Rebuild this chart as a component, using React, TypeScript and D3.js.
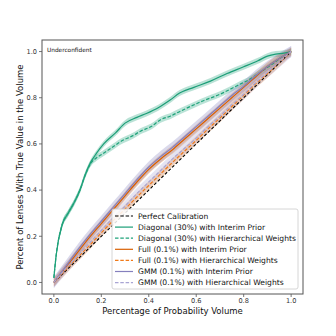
import React from 'react';
import * as d3 from 'd3';

// reading of the calibration curves
const diagX = [0, 0.01, 0.035, 0.06, 0.085, 0.11, 0.13, 0.155, 0.18, 0.21, 0.26, 0.3, 0.35, 0.39, 0.44, 0.49, 0.53, 0.59, 0.66, 0.73, 0.8, 0.86, 0.9, 0.935, 0.97, 1.0];
const diagInterim = [0.02, 0.12, 0.25, 0.3, 0.345, 0.4, 0.46, 0.52, 0.56, 0.6, 0.648, 0.69, 0.715, 0.732, 0.757, 0.79, 0.82, 0.845, 0.872, 0.905, 0.934, 0.96, 0.98, 0.989, 0.993, 1.0];
const diagHierX = [0, 0.01, 0.035, 0.06, 0.085, 0.11, 0.13, 0.155, 0.18, 0.204, 0.26, 0.28, 0.337, 0.365, 0.41, 0.45, 0.49, 0.534, 0.618, 0.7, 0.772, 0.829, 0.87, 0.92, 0.96, 1.0];
const diagHier = [0.02, 0.12, 0.25, 0.3, 0.345, 0.4, 0.46, 0.515, 0.54, 0.556, 0.595, 0.609, 0.638, 0.655, 0.675, 0.705, 0.72, 0.742, 0.782, 0.815, 0.852, 0.882, 0.91, 0.945, 0.975, 1.0];

const nearX = [0, 0.05, 0.1, 0.15, 0.2, 0.25, 0.3, 0.35, 0.4, 0.45, 0.5, 0.55, 0.6, 0.65, 0.7, 0.75, 0.8, 0.85, 0.9, 0.95, 1.0];
const gmmInterim = [0, 0.07, 0.14, 0.205, 0.265, 0.325, 0.385, 0.445, 0.5, 0.545, 0.585, 0.63, 0.675, 0.72, 0.765, 0.81, 0.85, 0.895, 0.935, 0.97, 1.0];
const fullInterim = [0, 0.065, 0.13, 0.195, 0.255, 0.315, 0.375, 0.435, 0.49, 0.535, 0.575, 0.62, 0.665, 0.71, 0.755, 0.8, 0.845, 0.89, 0.935, 0.97, 1.0];
const gmmHier = [0, 0.06, 0.115, 0.17, 0.225, 0.28, 0.33, 0.385, 0.435, 0.485, 0.535, 0.58, 0.625, 0.675, 0.72, 0.77, 0.815, 0.865, 0.91, 0.955, 1.0];
const fullHier = [0, 0.055, 0.108, 0.16, 0.215, 0.268, 0.318, 0.37, 0.42, 0.47, 0.52, 0.568, 0.615, 0.665, 0.712, 0.762, 0.81, 0.86, 0.905, 0.952, 1.0];

const ticks = [0, 0.2, 0.4, 0.6, 0.8, 1.0];

type Series = { label: string; xs: number[]; ys: number[]; color: string; dashed: boolean; band: number };

const series: Series[] = [
  { label: 'Diagonal (30%) with Interim Prior', xs: diagX, ys: diagInterim, color: '#1b9e77', dashed: false, band: 0.013 },
  { label: 'Diagonal (30%) with Hierarchical Weights', xs: diagHierX, ys: diagHier, color: '#1fa37a', dashed: true, band: 0.013 },
  { label: 'Full (0.1%) with Interim Prior', xs: nearX, ys: fullInterim, color: '#d95f02', dashed: false, band: 0.018 },
  { label: 'Full (0.1%) with Hierarchical Weights', xs: nearX, ys: fullHier, color: '#f07a1a', dashed: true, band: 0.018 },
  { label: 'GMM (0.1%) with Interim Prior', xs: nearX, ys: gmmInterim, color: '#8580bd', dashed: false, band: 0.024 },
  { label: 'GMM (0.1%) with Hierarchical Weights', xs: nearX, ys: gmmHier, color: '#a9a5d4', dashed: true, band: 0.024 },
];

const W = 336, H = 336;
const left = 42, right = 303, top = 40, bottom = 294;

export default function App() {
  const x = d3.scaleLinear().domain([-0.05, 1.05]).range([left, right]);
  const y = d3.scaleLinear().domain([-0.05, 1.05]).range([bottom, top]);
  const font = 'DejaVu Sans, sans-serif';

  const line = (xs: number[], ys: number[]) =>
    d3.line<number>().x((_, i) => x(xs[i])).y(d => y(d)).curve(d3.curveMonotoneX)(ys) || '';
  const area = (xs: number[], ys: number[], b: number) =>
    d3.area<number>().x((_, i) => x(xs[i])).y0(d => y(d - b)).y1(d => y(d + b)).curve(d3.curveMonotoneX)(ys) || '';

  const legendRows = [{ label: 'Perfect Calibration', color: '#000', dashed: true }, ...series];

  return (
    <svg width={W} height={H} style={{ position: 'absolute', left: 0, top: 0, background: '#fff' }} fontFamily={font}>
      <defs>
        <clipPath id="plot">
          <rect x={left} y={top} width={right - left} height={bottom - top} />
        </clipPath>
      </defs>
      <g clipPath="url(#plot)">
        {series.map(s => (
          <path key={s.label + 'b'} d={area(s.xs, s.ys, s.band)} fill={s.color} opacity={0.3} />
        ))}
        <path d={line([0, 1], [0, 1])} stroke="#000" strokeWidth={1.1} strokeDasharray="3,2" fill="none" />
        {series.map(s => (
          <path key={s.label} d={line(s.xs, s.ys)} stroke={s.color} strokeWidth={1.2}
            strokeDasharray={s.dashed ? '3.5,1.8' : undefined} fill="none" />
        ))}
      </g>
      {/* spines */}
      <rect x={left} y={top} width={right - left} height={bottom - top} fill="none" stroke="#555" strokeWidth={1} />
      {ticks.map(t => (
        <g key={'y' + t}>
          <line x1={left - 3} x2={left} y1={y(t)} y2={y(t)} stroke="#555" strokeWidth={0.8} />
          <text x={left - 5} y={y(t)} dy="0.35em" textAnchor="end" fontSize={6.6} fill="#333">{t.toFixed(1)}</text>
        </g>
      ))}
      {ticks.map(t => (
        <g key={'x' + t}>
          <line x1={x(t)} x2={x(t)} y1={bottom} y2={bottom + 3} stroke="#555" strokeWidth={0.8} />
          <text x={x(t)} y={bottom + 8.5} textAnchor="middle" fontSize={6.6} fill="#333">{t.toFixed(1)}</text>
        </g>
      ))}
      <text x={(left + right) / 2} y={314} textAnchor="middle" fontSize={8.5} fill="#111">Percentage of Probability Volume</text>
      <text transform={`translate(23,${(top + bottom) / 2}) rotate(-90)`} textAnchor="middle" fontSize={8.5} fill="#111">
        Percent of Lenses With True Value in the Volume
      </text>
      <text x={47} y={52} fontSize={5.8} fill="#111">Underconfident</text>
      {/* legend */}
      <rect x={112} y={209} width={186} height={80} rx={2} fill="#fff" fillOpacity={0.85} stroke="#ccc" strokeWidth={0.8} />
      {legendRows.map((r, i) => {
        const ly = 216 + i * 11.1;
        return (
          <g key={r.label}>
            <line x1={115} x2={133} y1={ly} y2={ly} stroke={r.color} strokeWidth={1.2}
              strokeDasharray={r.dashed ? '3.5,1.8' : undefined} />
            <text x={138} y={ly} dy="0.35em" fontSize={7.6} fill="#111">{r.label}</text>
          </g>
        );
      })}
    </svg>
  );
}
